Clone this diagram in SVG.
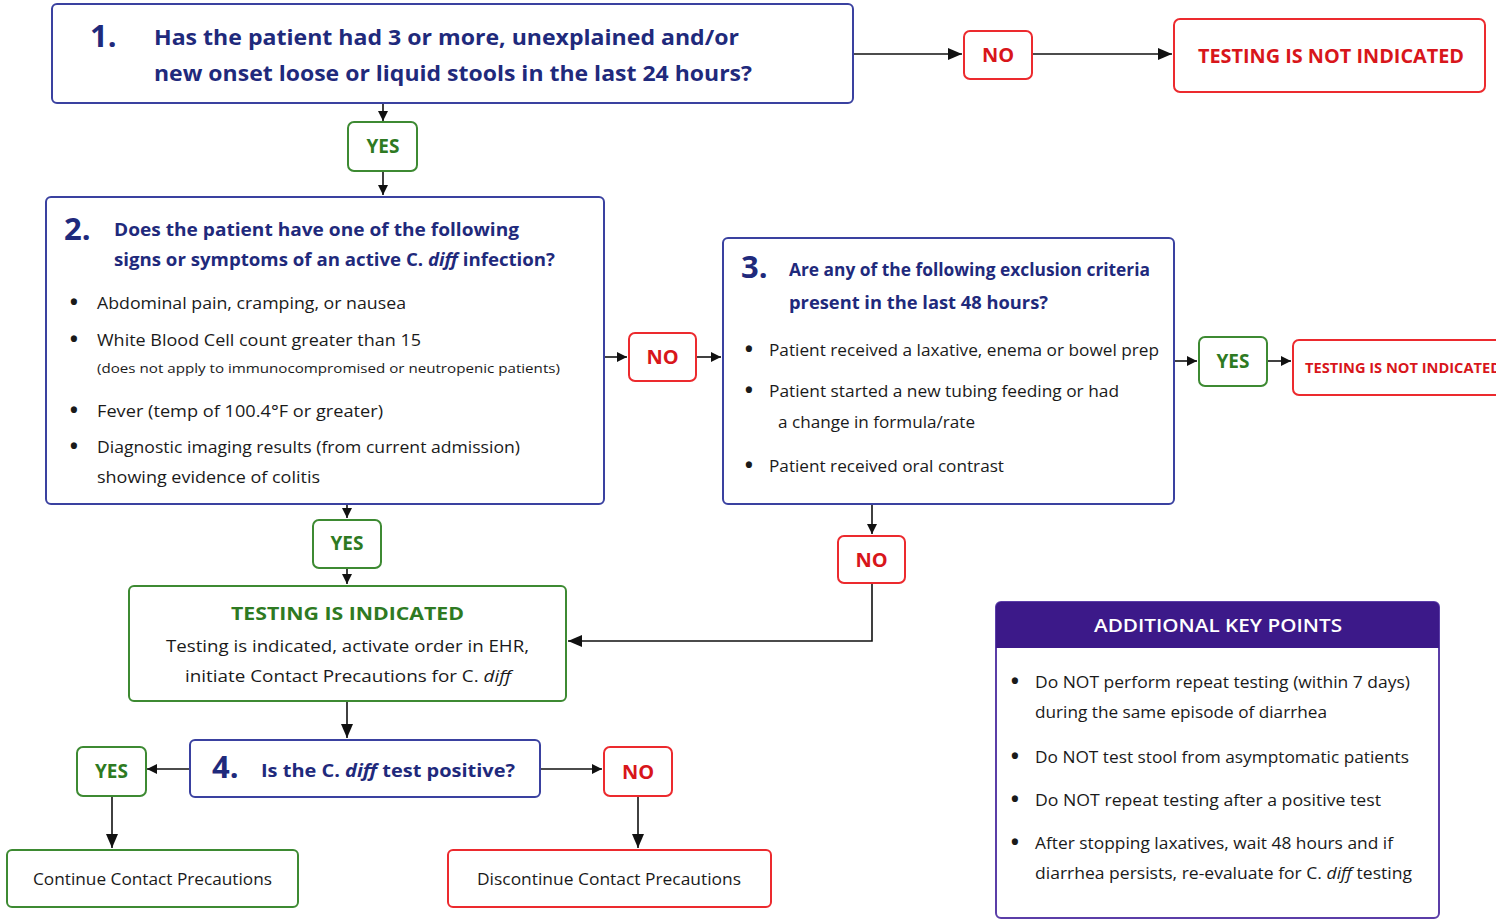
<svg xmlns="http://www.w3.org/2000/svg" width="1496" height="920" viewBox="0 0 1496 920">
<defs>
<marker id="ah" viewBox="0 0 10 10" refX="10" refY="5" markerWidth="10" markerHeight="10" markerUnits="userSpaceOnUse" orient="auto">
<path d="M0,0 L10,5 L0,10 z" fill="#111"/>
</marker>
<marker id="ahL" viewBox="0 0 14 12" refX="14" refY="6" markerWidth="14" markerHeight="12" markerUnits="userSpaceOnUse" orient="auto">
<path d="M0,0 L14,6 L0,12 z" fill="#111"/>
</marker>
</defs>
<style>
text{font-family:"Open Sans","Noto Sans","Liberation Sans",sans-serif}
.q{fill:#fff;stroke:#3a41a0;stroke-width:2}
.g{fill:#fff;stroke:#3d8a32;stroke-width:2}
.r{fill:#fff;stroke:#ec2a2e;stroke-width:2}
.num{font-size:31px;font-weight:700;fill:#1f2a7c}
.qt{font-weight:700;fill:#1f2a7c}
.yes{font-size:19px;font-weight:700;fill:#2e7a22;text-anchor:middle}
.no{font-size:20px;font-weight:700;fill:#d8161b;text-anchor:middle}
.b{font-size:17px;fill:#1a1a1a}
.dot{font-size:22px;font-weight:700;fill:#1a1a1a;text-anchor:middle}
.c{stroke:#111;stroke-width:1.6;fill:none}
</style>
<rect width="1496" height="920" fill="#fff"/>

<g id="connectors">
<line class="c" x1="853" y1="54" x2="962" y2="54" marker-end="url(#ahL)"/>
<line class="c" x1="1032" y1="54" x2="1172" y2="54" marker-end="url(#ahL)"/>
<line class="c" x1="383" y1="103" x2="383" y2="121" marker-end="url(#ah)"/>
<line class="c" x1="383" y1="171" x2="383" y2="195" marker-end="url(#ah)"/>
<line class="c" x1="604" y1="357" x2="627" y2="357" marker-end="url(#ah)"/>
<line class="c" x1="696" y1="357" x2="721" y2="357" marker-end="url(#ah)"/>
<line class="c" x1="1174" y1="361" x2="1197" y2="361" marker-end="url(#ah)"/>
<line class="c" x1="1267" y1="361" x2="1291" y2="361" marker-end="url(#ah)"/>
<line class="c" x1="872" y1="504" x2="872" y2="534" marker-end="url(#ah)"/>
<polyline class="c" points="872,583 872,641 568,641" marker-end="url(#ahL)"/>
<line class="c" x1="347" y1="504" x2="347" y2="518" marker-end="url(#ah)"/>
<line class="c" x1="347" y1="568" x2="347" y2="584" marker-end="url(#ah)"/>
<line class="c" x1="347" y1="701" x2="347" y2="738" marker-end="url(#ahL)"/>
<line class="c" x1="190" y1="769" x2="147" y2="769" marker-end="url(#ah)"/>
<line class="c" x1="540" y1="769" x2="602" y2="769" marker-end="url(#ah)"/>
<line class="c" x1="112" y1="796" x2="112" y2="848" marker-end="url(#ahL)"/>
<line class="c" x1="638" y1="796" x2="638" y2="848" marker-end="url(#ahL)"/>
</g>

<g id="q1">
<rect class="q" x="52" y="4" width="801" height="99" rx="5"/>
<text class="num" x="90" y="47">1.</text>
<text class="qt" x="154" y="45" font-size="21" textLength="585" lengthAdjust="spacingAndGlyphs">Has the patient had 3 or more, unexplained and/or</text>
<text class="qt" x="154" y="81" font-size="21" textLength="598" lengthAdjust="spacingAndGlyphs">new onset loose or liquid stools in the last 24 hours?</text>
</g>

<g id="no1">
<rect class="r" x="964" y="31" width="68" height="48" rx="6"/>
<text class="no" x="998" y="62">NO</text>
</g>

<g id="notind1">
<rect class="r" x="1174" y="19" width="311" height="73" rx="6"/>
<text x="1198" y="63" font-size="19" font-weight="700" fill="#d8161b" textLength="266" lengthAdjust="spacingAndGlyphs">TESTING IS NOT INDICATED</text>
</g>

<g id="yes1">
<rect class="g" x="348" y="122" width="69" height="49" rx="6"/>
<text class="yes" x="383" y="153">YES</text>
</g>

<g id="q2">
<rect class="q" x="46" y="197" width="558" height="307" rx="5"/>
<text class="num" x="64" y="240">2.</text>
<text class="qt" x="114" y="236" font-size="18.5" textLength="405" lengthAdjust="spacingAndGlyphs">Does the patient have one of the following</text>
<text class="qt" x="114" y="266" font-size="18.5" textLength="441" lengthAdjust="spacingAndGlyphs">signs or symptoms of an active C. <tspan font-style="italic">diff</tspan> infection?</text>
<text class="dot" x="74" y="310">•</text><text class="b" x="97" y="309" textLength="309" lengthAdjust="spacingAndGlyphs">Abdominal pain, cramping, or nausea</text>
<text class="dot" x="74" y="347">•</text><text class="b" x="97" y="346" textLength="324" lengthAdjust="spacingAndGlyphs">White Blood Cell count greater than 15</text>
<text x="97" y="373" font-size="13.5" fill="#1a1a1a" textLength="463" lengthAdjust="spacingAndGlyphs">(does not apply to immunocompromised or neutropenic patients)</text>
<text class="dot" x="74" y="418">•</text><text class="b" x="97" y="417" textLength="286" lengthAdjust="spacingAndGlyphs">Fever (temp of 100.4°F or greater)</text>
<text class="dot" x="74" y="454">•</text><text class="b" x="97" y="453" textLength="423" lengthAdjust="spacingAndGlyphs">Diagnostic imaging results (from current admission)</text>
<text class="b" x="97" y="483" textLength="223" lengthAdjust="spacingAndGlyphs">showing evidence of colitis</text>
</g>

<g id="no2">
<rect class="r" x="629" y="333" width="67" height="48" rx="6"/>
<text class="no" x="662.5" y="364">NO</text>
</g>

<g id="q3">
<rect class="q" x="723" y="238" width="451" height="266" rx="5"/>
<text class="num" x="741" y="278">3.</text>
<text class="qt" x="789" y="276" font-size="17" textLength="361" lengthAdjust="spacingAndGlyphs">Are any of the following exclusion criteria</text>
<text class="qt" x="789" y="309" font-size="17" textLength="259" lengthAdjust="spacingAndGlyphs">present in the last 48 hours?</text>
<text class="dot" x="749" y="357">•</text><text class="b" x="769" y="356" textLength="390" lengthAdjust="spacingAndGlyphs">Patient received a laxative, enema or bowel prep</text>
<text class="dot" x="749" y="398">•</text><text class="b" x="769" y="397" textLength="350" lengthAdjust="spacingAndGlyphs">Patient started a new tubing feeding or had</text>
<text class="b" x="778" y="428" textLength="197" lengthAdjust="spacingAndGlyphs">a change in formula/rate</text>
<text class="dot" x="749" y="473">•</text><text class="b" x="769" y="472" textLength="235" lengthAdjust="spacingAndGlyphs">Patient received oral contrast</text>
</g>

<g id="yes3">
<rect class="g" x="1199" y="337" width="68" height="49" rx="6"/>
<text class="yes" x="1233" y="368">YES</text>
</g>

<g id="notind3">
<rect class="r" x="1293" y="340" width="230" height="55" rx="6"/>
<text x="1305" y="373" font-size="14" font-weight="700" fill="#d8161b" textLength="196" lengthAdjust="spacingAndGlyphs">TESTING IS NOT INDICATED</text>
</g>

<g id="no3">
<rect class="r" x="838" y="536" width="67" height="47" rx="6"/>
<text class="no" x="871.5" y="567">NO</text>
</g>

<g id="yes2">
<rect class="g" x="313" y="520" width="68" height="48" rx="6"/>
<text class="yes" x="347" y="550">YES</text>
</g>

<g id="indicated">
<rect class="g" x="129" y="586" width="437" height="115" rx="5"/>
<text x="231" y="620" font-size="18.5" font-weight="700" fill="#2e7a22" textLength="233" lengthAdjust="spacingAndGlyphs">TESTING IS INDICATED</text>
<text class="b" x="166" y="652" textLength="363" lengthAdjust="spacingAndGlyphs">Testing is indicated, activate order in EHR,</text>
<text class="b" x="185" y="682" textLength="326" lengthAdjust="spacingAndGlyphs">initiate Contact Precautions for C. <tspan font-style="italic">diff</tspan></text>
</g>

<g id="q4">
<rect class="q" x="190" y="740" width="350" height="57" rx="5"/>
<text class="num" x="212" y="778">4.</text>
<text class="qt" x="261" y="777" font-size="18.5" textLength="254" lengthAdjust="spacingAndGlyphs">Is the C. <tspan font-style="italic">diff</tspan> test positive?</text>
</g>

<g id="yes4">
<rect class="g" x="77" y="747" width="69" height="49" rx="6"/>
<text class="yes" x="111.5" y="778">YES</text>
</g>

<g id="no4">
<rect class="r" x="604" y="747" width="68" height="49" rx="6"/>
<text class="no" x="638" y="779">NO</text>
</g>

<g id="continue">
<rect class="g" x="7" y="850" width="291" height="57" rx="5"/>
<text class="b" x="33" y="885" textLength="239" lengthAdjust="spacingAndGlyphs">Continue Contact Precautions</text>
</g>

<g id="discontinue">
<rect class="r" x="448" y="850" width="323" height="57" rx="5"/>
<text class="b" x="477" y="885" textLength="264" lengthAdjust="spacingAndGlyphs">Discontinue Contact Precautions</text>
</g>

<g id="keypoints">
<rect x="996" y="602" width="443" height="316" rx="5" fill="#fff" stroke="#5b3ea8" stroke-width="2"/>
<path d="M996,648 V607 a5,5 0 0 1 5,-5 H1434 a5,5 0 0 1 5,5 V648 z" fill="#3c1989"/>
<text x="1094" y="632" font-size="18.5" font-weight="600" fill="#fff" textLength="248" lengthAdjust="spacingAndGlyphs">ADDITIONAL KEY POINTS</text>
<text class="dot" x="1015" y="689">•</text><text class="b" x="1035" y="688" textLength="375" lengthAdjust="spacingAndGlyphs">Do NOT perform repeat testing (within 7 days)</text>
<text class="b" x="1035" y="718" textLength="292" lengthAdjust="spacingAndGlyphs">during the same episode of diarrhea</text>
<text class="dot" x="1015" y="764">•</text><text class="b" x="1035" y="763" textLength="374" lengthAdjust="spacingAndGlyphs">Do NOT test stool from asymptomatic patients</text>
<text class="dot" x="1015" y="807">•</text><text class="b" x="1035" y="806" textLength="346" lengthAdjust="spacingAndGlyphs">Do NOT repeat testing after a positive test</text>
<text class="dot" x="1015" y="850">•</text><text class="b" x="1035" y="849" textLength="358" lengthAdjust="spacingAndGlyphs">After stopping laxatives, wait 48 hours and if</text>
<text class="b" x="1035" y="879" textLength="377" lengthAdjust="spacingAndGlyphs">diarrhea persists, re-evaluate for C. <tspan font-style="italic">diff</tspan> testing</text>
</g>
</svg>
